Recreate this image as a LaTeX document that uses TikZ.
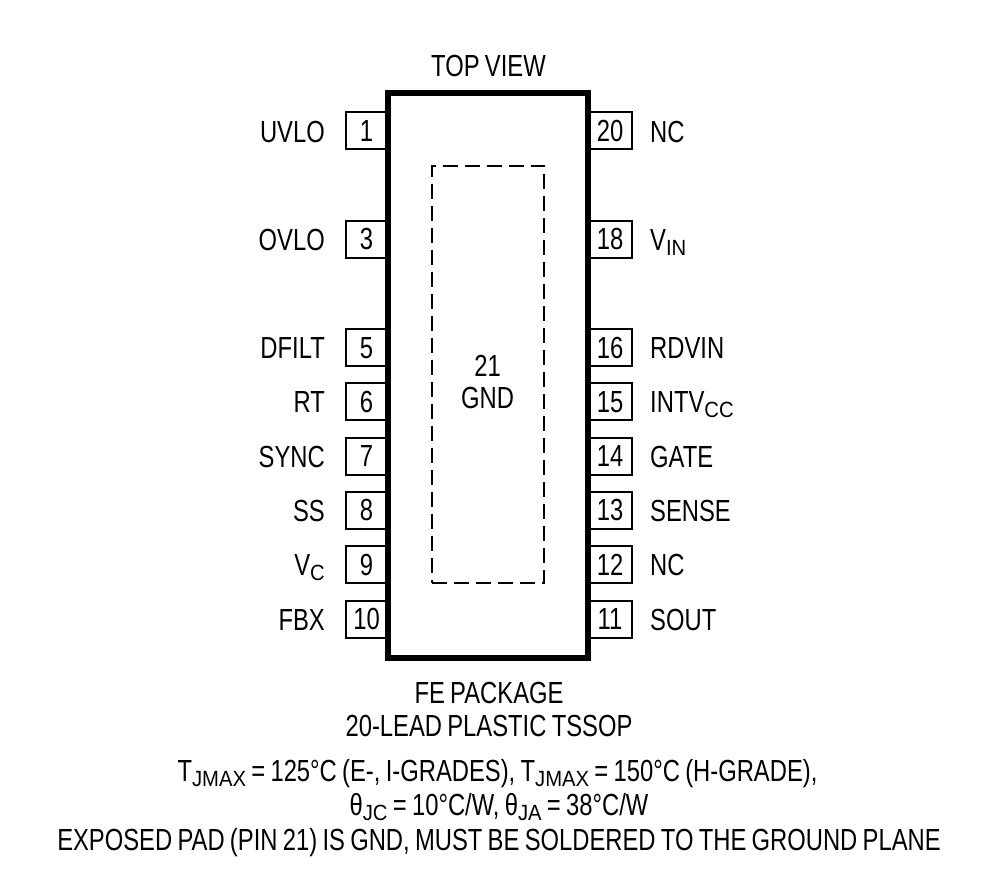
\documentclass[tikz,border=0pt]{standalone}
\usepackage{fontspec}
\setmainfont[FakeStretch=0.78, WordSpace=0.8]{Liberation Sans}
\newfontfamily\lowfont[FakeStretch=0.92]{Liberation Sans}
\newcommand{\lowtext}[1]{\raisebox{-5pt}{\lowfont\fontsize{22}{22}\selectfont #1}}

\begin{document}
\begin{tikzpicture}[x = 1pt, y = -1pt, font=\fontsize{30.5}{30.5}\selectfont]
	\tikzstyle{pinStyle}=[shape = rectangle, draw, line width = 2pt, minimum height = 37pt, inner sep = 0pt, text height = 21pt, text depth = 0pt]
	\tikzstyle{leftPinStyle}=[pinStyle, minimum width = 42pt]
	\tikzstyle{rightPinStyle}=[pinStyle, minimum width = 43pt]
	\tikzstyle{leftLabelStyle}=[anchor = base east, inner sep = 0pt]
	\tikzstyle{rightLabelStyle}=[anchor = base west, inner sep = 0pt]
	\tikzstyle{textStyle}=[anchor = base, inner sep = 0pt]
	\useasboundingbox (0, 0) rectangle (995, 875);
	\node[leftPinStyle] (p1) at (366.5, 130.5) {1};
	\node[leftPinStyle] (p3) at (366.5, 239) {3};
	\node[leftPinStyle] (p5) at (366.5, 347.5) {5};
	\node[leftPinStyle] (p6) at (366.5, 401.5) {6};
	\node[leftPinStyle] (p7) at (366.5, 456) {7};
	\node[leftPinStyle] (p8) at (366.5, 510) {8};
	\node[leftPinStyle] (p9) at (366.5, 564.5) {9};
	\node[leftPinStyle] (p10) at (366.5, 619) {10};
	\node[rightPinStyle] (p20) at (610, 130.5) {20};
	\node[rightPinStyle] (p18) at (610, 239) {18};
	\node[rightPinStyle] (p16) at (610, 347.5) {16};
	\node[rightPinStyle] (p15) at (610, 401.5) {15};
	\node[rightPinStyle] (p14) at (610, 456) {14};
	\node[rightPinStyle] (p13) at (610, 510) {13};
	\node[rightPinStyle] (p12) at (610, 564.5) {12};
	\node[rightPinStyle] (p11) at (610, 619) {11};
	\node[shape = rectangle, draw, line width = 6pt, minimum width = 200pt, minimum height = 565pt] (chip) at (488, 375.5) {};
	\node[shape = rectangle, draw, line width = 2pt, dash pattern = on 15pt off 7pt, minimum width = 112.5pt, minimum height = 417pt] (pad) at (488, 374) {};
	\node[leftLabelStyle] (uvlo) at (325, 142) {UVLO};
	\node[leftLabelStyle] (ovlo) at (325, 250) {OVLO};
	\node[leftLabelStyle] (dfilt) at (325, 358) {DFILT};
	\node[leftLabelStyle] (rt) at (325, 412.5) {RT};
	\node[leftLabelStyle] (sync) at (325, 467) {SYNC};
	\node[leftLabelStyle] (ss) at (325, 521) {SS};
	\node[leftLabelStyle] (vc) at (325, 575.5) {V\lowtext{C}};
	\node[leftLabelStyle] (fbx) at (325, 630) {FBX};
	\node[rightLabelStyle] (nca) at (650, 142) {NC};
	\node[rightLabelStyle] (vin) at (650, 250) {V\lowtext{IN}};
	\node[rightLabelStyle] (rdvin) at (650, 358) {RDVIN};
	\node[rightLabelStyle] (intvcc) at (650, 412.5) {INTV\lowtext{CC}};
	\node[rightLabelStyle] (gate) at (650, 467) {GATE};
	\node[rightLabelStyle] (sense) at (650, 521) {SENSE};
	\node[rightLabelStyle] (ncb) at (650, 575.5) {NC};
	\node[rightLabelStyle] (sout) at (650, 630) {SOUT};
	\node[textStyle] (topview) at (488.5, 76) {TOP VIEW};
	\node[textStyle] (padnum) at (487.5, 376) {21};
	\node[textStyle] (padname) at (487.5, 408) {GND};
	\node[textStyle] (package) at (489, 703) {FE PACKAGE};
	\node[textStyle] (leads) at (489, 736) {20-LEAD PLASTIC TSSOP};
	\node[textStyle] (tjmax) at (497.5, 781) {T\lowtext{JMAX} = 125°C (E-, I-GRADES), T\lowtext{JMAX} = 150°C (H-GRADE),};
	\node[textStyle] (theta) at (499, 815) {θ\lowtext{JC} = 10°C/W, θ\lowtext{JA} = 38°C/W};
	\node[textStyle] (exposed) at (499, 850) {EXPOSED PAD (PIN 21) IS GND, MUST BE SOLDERED TO THE GROUND PLANE};
\end{tikzpicture}
\end{document}
